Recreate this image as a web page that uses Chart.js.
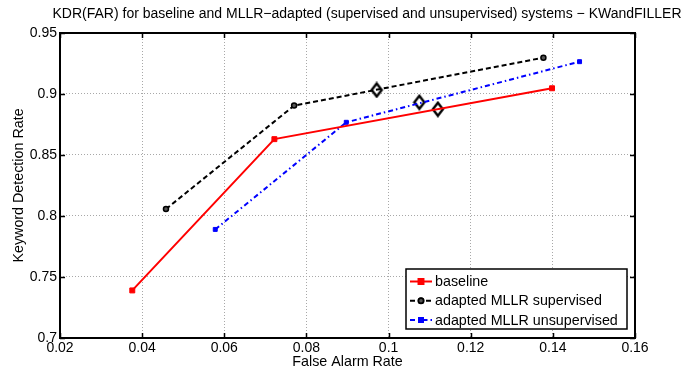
<!DOCTYPE html>
<html>
<head>
<meta charset="utf-8">
<script src="https://cdn.jsdelivr.net/npm/chart.js@4"></script>
<style>
  html, body { margin: 0; padding: 0; background: #fff; }
  #wrap { width: 689px; height: 371px; }
</style>
</head>
<body>
<div id="wrap"><canvas id="graph-kdr" width="689" height="371"></canvas></div>
<script>
const $graphKdr = document.querySelector("#graph-kdr");

// FAR / KDR
const farBaseline = [0.0376, 0.0722, 0.1398];
const kdrBaseline = [0.739, 0.863, 0.9047];

const farSupervised = [0.0458, 0.077, 0.1377];
const kdrSupervised = [0.8057, 0.8905, 0.9298];

const farUnsupervised = [0.0578, 0.0897, 0.1465];
const kdrUnsupervised = [0.789, 0.8768, 0.9265];

// diamond markers (operating points)
const farDiamonds = [0.0971, 0.1075, 0.112];
const kdrDiamonds = [0.9033, 0.8932, 0.8875];

const xTicks = [0.02, 0.04, 0.06, 0.08, 0.1, 0.12, 0.14, 0.16];
const yTicks = [0.7, 0.75, 0.8, 0.85, 0.9, 0.95];

const chartTitle = 'KDR(FAR) for baseline and MLLR\u2212adapted (supervised and unsupervised) systems \u2212 KWandFILLER';

const toPoints = (xs, ys) => xs.map((x, i) => ({ x: x, y: ys[i] }));
const fmt = v => String(Number(v.toFixed(2)));

const FONT = "'Liberation Sans', Arial, Helvetica, sans-serif";

// matlab diamond, a bit taller than wide
const diamond = document.createElement('canvas');
diamond.width = 14; diamond.height = 17;
(() => {
    const c = diamond.getContext('2d');
    c.strokeStyle = '#000';
    c.lineWidth = 2.4;
    c.lineJoin = 'miter';
    c.beginPath();
    c.moveTo(7, 2); c.lineTo(12, 8.5); c.lineTo(7, 15); c.lineTo(2, 8.5);
    c.closePath();
    c.stroke();
})();

// MATLAB style box, inward ticks, title and the legend inside the axes
const matlabBox = {
    id: 'matlabBox',
    afterDraw(chart) {
        const ctx = chart.ctx;
        const a = chart.chartArea;
        const xs = chart.scales.x, ys = chart.scales.y;
        ctx.save();

        // title
        ctx.fillStyle = '#000';
        ctx.font = '14px ' + FONT;
        ctx.textAlign = 'center';
        ctx.textBaseline = 'middle';
        ctx.fillText(chartTitle, 367, 14);
        ctx.textAlign = 'left';

        // legend
        const items = chart.data.datasets.filter(d => !d.noLegend);
        const lx = 406, ly = 269, lw = 221, lh = 60;
        ctx.fillStyle = '#fff';
        ctx.fillRect(lx, ly, lw, lh);
        ctx.strokeStyle = '#000';
        ctx.lineWidth = 1.5;
        ctx.strokeRect(lx, ly, lw, lh);
        ctx.font = '14.3px ' + FONT;
        items.forEach((d, i) => {
            const y = ly + 12.5 + i * 19.3;
            ctx.strokeStyle = d.borderColor;
            ctx.lineWidth = d.borderWidth;
            ctx.setLineDash(d.borderDash || []);
            ctx.beginPath();
            ctx.moveTo(lx + 4, y);
            ctx.lineTo(lx + 26, y);
            ctx.stroke();
            ctx.setLineDash([]);
            Chart.helpers.drawPoint(ctx, {
                pointStyle: d.pointStyle,
                radius: d.pointRadius,
                borderWidth: d.pointBorderWidth || 1,
                rotation: 0
            }, lx + 15, y);
            ctx.fillStyle = d.pointBackgroundColor;
            ctx.strokeStyle = d.pointBorderColor;
            ctx.lineWidth = d.pointBorderWidth || 1;
            ctx.fill();
            ctx.stroke();
            ctx.fillStyle = '#000';
            ctx.fillText(d.label, lx + 29, y + 0.5);
        });

        // ticks pointing inward
        ctx.strokeStyle = '#000';
        ctx.lineWidth = 1.5;
        ctx.beginPath();
        xTicks.forEach(v => {
            const px = Math.round(xs.getPixelForValue(v)) + 0.5;
            ctx.moveTo(px, a.bottom); ctx.lineTo(px, a.bottom - 5);
            ctx.moveTo(px, a.top); ctx.lineTo(px, a.top + 5);
        });
        yTicks.forEach(v => {
            const py = Math.round(ys.getPixelForValue(v)) + 0.5;
            ctx.moveTo(a.left, py); ctx.lineTo(a.left + 5, py);
            ctx.moveTo(a.right, py); ctx.lineTo(a.right - 5, py);
        });
        ctx.stroke();

        // axes box
        ctx.lineWidth = 2;
        ctx.strokeRect(a.left, a.top, a.right - a.left, a.bottom - a.top);
        ctx.restore();
    }
};

new Chart($graphKdr, {
    type: 'line',
    data: {
        datasets: [
            {
                label: 'baseline',
                data: toPoints(farBaseline, kdrBaseline),
                borderColor: '#ff0000',
                borderWidth: 2,
                pointStyle: 'rect',
                pointRadius: 3.5,
                pointBackgroundColor: '#ff0000',
                pointBorderColor: '#ff0000',
                pointBorderWidth: 1
            },
            {
                label: 'adapted MLLR supervised',
                data: toPoints(farSupervised, kdrSupervised),
                borderColor: '#000000',
                borderWidth: 2,
                borderDash: [5, 3],
                pointStyle: 'circle',
                pointRadius: 2.5,
                pointBackgroundColor: '#555',
                pointBorderColor: '#000000',
                pointBorderWidth: 1.5
            },
            {
                label: 'adapted MLLR unsupervised',
                data: toPoints(farUnsupervised, kdrUnsupervised),
                borderColor: '#0000ff',
                borderWidth: 2,
                borderDash: [5, 3, 1.5, 3],
                pointStyle: 'rect',
                pointRadius: 2.8,
                pointBackgroundColor: '#0000ff',
                pointBorderColor: '#0000ff',
                pointBorderWidth: 1
            },
            {
                label: 'diamonds',
                noLegend: true,
                data: toPoints(farDiamonds, kdrDiamonds),
                showLine: false,
                pointStyle: diamond,
                pointRadius: 7
            }
        ]
    },
    options: {
        responsive: false,
        animation: false,
        layout: { padding: { left: 0, right: 54, top: 33, bottom: 0 } },
        plugins: {
            legend: { display: false },
            tooltip: { enabled: false },
            title: { display: false }
        },
        scales: {
            x: {
                type: 'linear',
                min: 0.02,
                max: 0.16,
                afterFit: s => { s.height = 33; },
                afterBuildTicks: s => { s.ticks = xTicks.map(v => ({ value: v })); },
                ticks: {
                    color: '#000',
                    font: { family: FONT, size: 14 },
                    padding: 2,
                    maxRotation: 0,
                    autoSkip: false,
                    callback: v => fmt(v)
                },
                grid: { color: '#a8a8a8', lineWidth: 1, drawTicks: false },
                border: { display: false, dash: [1, 2] },
                title: {
                    display: true,
                    text: 'False Alarm Rate',
                    color: '#000',
                    font: { family: FONT, size: 14.3 },
                    padding: { top: 0, bottom: 0 }
                }
            },
            y: {
                type: 'linear',
                min: 0.7,
                max: 0.95,
                afterFit: s => { s.width = 60; },
                afterBuildTicks: s => { s.ticks = yTicks.map(v => ({ value: v })); },
                ticks: {
                    color: '#000',
                    font: { family: FONT, size: 14 },
                    padding: 3,
                    autoSkip: false,
                    callback: v => fmt(v)
                },
                grid: { color: '#a8a8a8', lineWidth: 1, drawTicks: false },
                border: { display: false, dash: [1, 2] },
                title: {
                    display: true,
                    text: 'Keyword Detection Rate',
                    color: '#000',
                    font: { family: FONT, size: 14.3 },
                    padding: { top: 10.5, bottom: 0 }
                }
            }
        }
    },
    plugins: [matlabBox]
});
</script>
</body>
</html>
